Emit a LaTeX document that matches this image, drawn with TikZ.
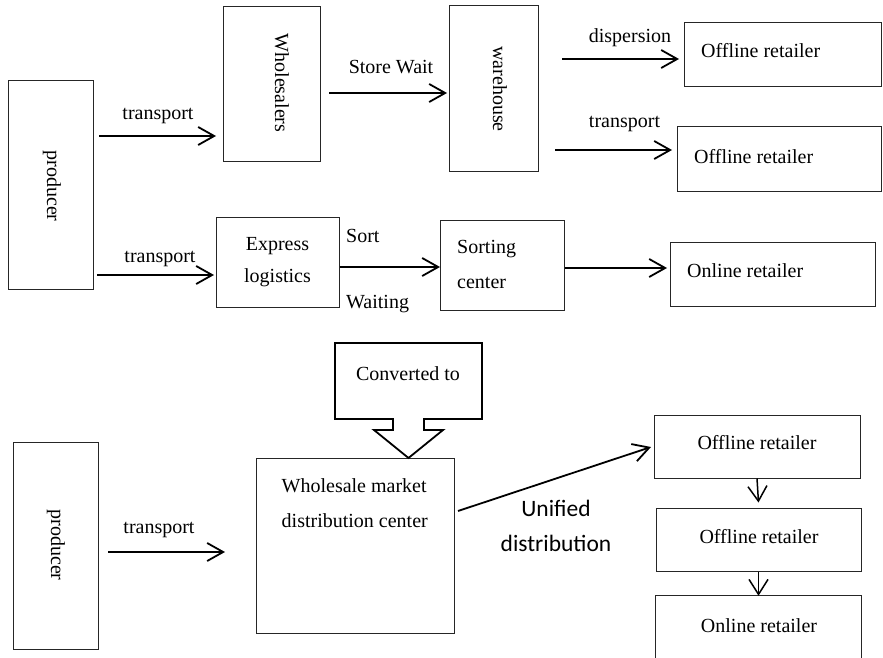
\documentclass[tikz,border=0pt]{standalone}
\usepackage{fontspec}
\setmainfont{Liberation Serif}
\newfontfamily\labelsans{Carlito}
\usetikzlibrary{arrows.meta}

\begin{document}
\begin{tikzpicture}[x=1pt,y=-1pt,
  box/.style={draw=black!85, line width=1pt, inner sep=0pt},
  txt/.style={font=\fontsize{20}{24}\selectfont, inner sep=0pt},
  vtxt/.style={txt, rotate=-90, anchor=base},
  arr/.style={line width=1.8pt, -{Straight Barb[length=16pt,width=18pt]}},
  darr/.style={line width=1.5pt, -{Straight Barb[length=15pt,width=19pt]}}
]
\useasboundingbox (0,0) rectangle (883,658);
\fill[white] (0,0) rectangle (883,658);

% ---------- upper scheme: boxes ----------
\node[box, minimum width=85, minimum height=208] (prodA) at (50.5,185) {};
\node[box, minimum width=97, minimum height=154] (whs)   at (271.5,84) {};
\node[box, minimum width=89, minimum height=165] (wh)    at (493.5,88.5) {};
\node[box, minimum width=197, minimum height=64] (offA)  at (782.5,55) {};
\node[box, minimum width=204, minimum height=64] (offB)  at (779,159) {};
\node[box, minimum width=123, minimum height=90] (exp)   at (277.5,262) {};
\node[box, minimum width=124, minimum height=90] (sortc) at (502,265) {};
\node[box, minimum width=205, minimum height=64] (onl)   at (772.5,274) {};

% box texts
\node[vtxt] (tprodA) at (47,186) {producer};
\node[vtxt] (twhs)   at (275,83) {Wholesalers};
\node[vtxt] (twh)    at (493,89) {warehouse};
\node[txt, anchor=base west] (toffA) at (701,58) {Offline retailer};
\node[txt, anchor=base west] (toffB) at (694,163) {Offline retailer};
\node[txt, anchor=base west] (tonl)  at (687,277) {Online retailer};
\node[txt, align=center, anchor=north, font=\fontsize{20}{32}\selectfont] (texp) at (277.5,237) {Express\\logistics};
\node[txt, align=left, anchor=north west, font=\fontsize{20}{35.5}\selectfont] (tsort) at (457,240) {Sorting\\center};

% connectors
\coordinate (a1s) at (99,136);  \coordinate (a1e) at (216,136);
\coordinate (a2s) at (329,93);  \coordinate (a2e) at (447,93);
\coordinate (a3s) at (562,59);  \coordinate (a3e) at (679,59);
\coordinate (a4s) at (555,150); \coordinate (a4e) at (672,150);
\coordinate (a5s) at (97,275);  \coordinate (a5e) at (214,275);
\coordinate (a6e) at (440,267);
\coordinate (a7e) at (667,268);
\draw[arr] (a1s) -- (a1e);
\draw[arr] (a2s) -- (a2e);
\draw[arr] (a3s) -- (a3e);
\draw[arr] (a4s) -- (a4e);
\draw[arr] (a5s) -- (a5e);
\draw[arr] (exp.east |- a6e) -- (a6e);
\draw[arr] (sortc.east |- a7e) -- (a7e);

% connector labels
\node[txt, anchor=base] (l1) at (158,120) {transport};
\node[txt, anchor=base] (l2) at (391,74) {Store Wait};
\node[txt, anchor=base] (l3) at (630,42.5) {dispersion};
\node[txt, anchor=base] (l4) at (624.5,127.5) {transport};
\node[txt, anchor=base] (l5) at (160,262.5) {transport};
\node[txt, anchor=base west] (l6) at (346,242) {Sort};
\node[txt, anchor=base west] (l7) at (346,308.5) {Waiting};

% ---------- lower scheme ----------
\node[box, minimum width=85, minimum height=207] (prodB) at (55.5,545.5) {};
\node[box, minimum width=198, minimum height=175] (wsm) at (355,545.5) {};
\node[box, minimum width=206, minimum height=63] (rA) at (757,446.5) {};
\node[box, minimum width=205, minimum height=63] (rB) at (758.5,539.5) {};
\node[inner sep=0pt, minimum width=205, minimum height=64] (rC) at (758.5,628) {};
\draw[draw=black!85, line width=1pt] (rC.south west) -- (rC.north west) -- (rC.north east) -- (rC.south east);

% callout with a block arrow pointing down
\draw[line width=1.8pt, line join=miter]
  (335,343) -- (482,343) -- (482,419) -- (424,419) -- (424,430) -- (443,430)
  -- (408.5,458) -- (374,430) -- (393,430) -- (393,419) -- (335,419) -- cycle;
\node[txt, anchor=base] (tconv) at (408,380) {Converted to};

\node[vtxt] (tprodB) at (51,545) {producer};
\node[txt, align=left, anchor=north west, font=\fontsize{20}{35}\selectfont] (twsm) at (281.5,478) {Wholesale market\\distribution center};
\node[txt, anchor=base] (trA) at (757,449) {Offline retailer};
\node[txt, anchor=base] (trB) at (759,543) {Offline retailer};
\node[txt, anchor=base] (trC) at (759,632) {Online retailer};

\coordinate (b1s) at (108,552); \coordinate (b1e) at (225,552);
\draw[arr] (b1s) -- (b1e);
\node[txt, anchor=base] (l8) at (159,533.5) {transport};

\coordinate (b2s) at (458,511); \coordinate (b2e) at (651,447);
\draw[arr] (b2s) -- (b2e);
\node[inner sep=0pt, align=center, anchor=north, font=\labelsans\fontsize{23.5}{35}\selectfont] (l9) at (556,500) {Unified\\distribution};

\draw[darr] (rA.south) -- ([yshift=5pt]rB.north);
\draw[darr] (rB.south) -- (rC.north);
\end{tikzpicture}
\end{document}
